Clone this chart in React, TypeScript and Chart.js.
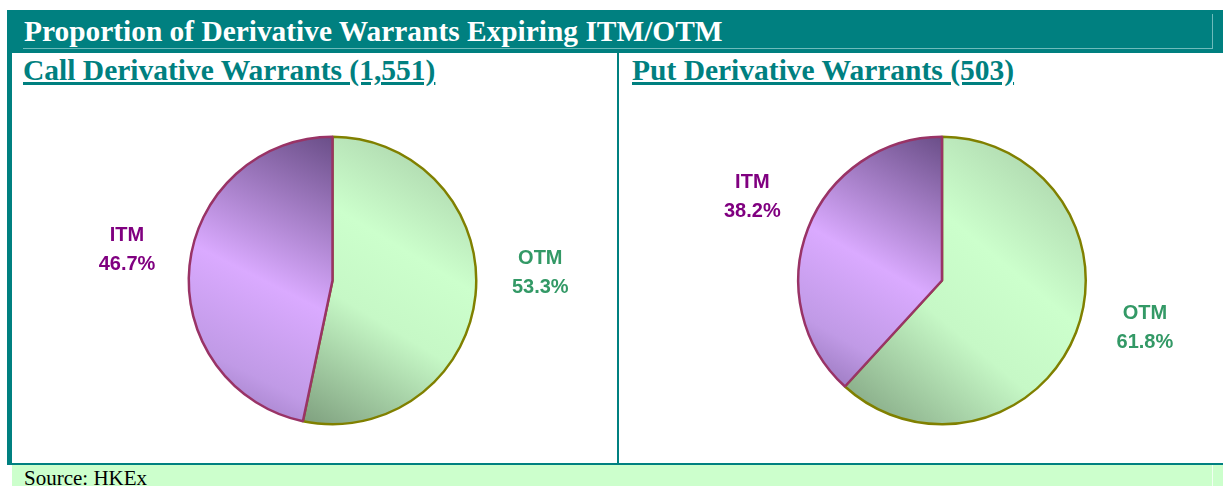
import React, { useEffect, useRef } from 'react';
import { Chart, registerables } from 'chart.js';

Chart.register(...registerables);

// ---- data ----
const categories = ['OTM', 'ITM'];
const callShares = [53.3, 46.7];
const putShares = [61.8, 38.2];
const callCount = '1,551';
const putCount = '503';
const titleText = 'Proportion of Derivative Warrants Expiring ITM/OTM';
const callTitle = `Call Derivative Warrants (${callCount})`;
const putTitle = `Put Derivative Warrants (${putCount})`;
const sourceText = 'Source: HKEx';

// ---- styles ----
const TEAL = '#008080';
type SliceStyle = { stops: [number, string][]; border: string; label: string; nudge: number };
const sliceStyles: Record<string, SliceStyle> = {
  OTM: {
    stops: [[0, '#A4C9A4'], [0.4, '#CCFFCC'], [0.62, '#C6F8C6'], [1, '#7E9F7E']],
    border: '#808000',
    label: '#339966',
    nudge: -8.5,
  },
  ITM: {
    stops: [[0, '#6A4E88'], [0.5, '#DAAAFF'], [0.78, '#C09AE6'], [1, '#9070B4']],
    border: '#993366',
    label: '#800080',
    nudge: 3,
  },
};
const BORDER_W = 2.5;
const LABEL_DIST = 208;

function sliceAngles(values: number[], i: number): [number, number] {
  const total = values.reduce((a, b) => a + b, 0);
  let start = -Math.PI / 2;
  for (let k = 0; k < i; k++) start += (values[k] / total) * Math.PI * 2;
  return [start, start + (values[i] / total) * Math.PI * 2];
}

function sectorBox(cx: number, cy: number, r: number, a0: number, a1: number) {
  const xs = [cx, cx + r * Math.cos(a0), cx + r * Math.cos(a1)];
  const ys = [cy, cy + r * Math.sin(a0), cy + r * Math.sin(a1)];
  for (let k = -4; k <= 8; k++) {
    const a = (k * Math.PI) / 2;
    if (a > a0 && a < a1) {
      xs.push(cx + r * Math.cos(a));
      ys.push(cy + r * Math.sin(a));
    }
  }
  return { minX: Math.min(...xs), maxX: Math.max(...xs), minY: Math.min(...ys), maxY: Math.max(...ys) };
}

const labelPlugin = {
  id: 'sliceLabels',
  afterDatasetsDraw(chart: any) {
    const ctx = chart.ctx;
    const meta = chart.getDatasetMeta(0);
    const values: number[] = chart.data.datasets[0].data;
    meta.data.forEach((arc: any, i: number) => {
      const name = chart.data.labels[i];
      const st = sliceStyles[name];
      const mid = (arc.startAngle + arc.endAngle) / 2 + (st.nudge * Math.PI) / 180;
      const x = arc.x + Math.cos(mid) * LABEL_DIST;
      const y = arc.y + Math.sin(mid) * LABEL_DIST;
      ctx.save();
      ctx.fillStyle = st.label;
      ctx.font = 'bold 20px "Liberation Sans", Arial, sans-serif';
      ctx.textAlign = 'center';
      ctx.textBaseline = 'alphabetic';
      ctx.fillText(name, x, y - 7);
      ctx.fillText(values[i].toFixed(1) + '%', x, y + 22);
      ctx.restore();
    });
  },
};

function PieChart(props: { values: number[]; left: number; top: number; width: number; height: number; cx: number; cy: number }) {
  const { values, left, top, width, height, cx, cy } = props;
  const ref = useRef<HTMLCanvasElement>(null);
  useEffect(() => {
    const R = 145;
    const chart = new Chart(ref.current as HTMLCanvasElement, {
      type: 'pie',
      data: {
        labels: categories,
        datasets: [
          {
            data: values,
            backgroundColor: (c: any) => {
              const name = categories[c.dataIndex];
              const st = sliceStyles[name];
              const area = c.chart.chartArea;
              if (!area) return st.stops[1][1];
              const ccx = (area.left + area.right) / 2;
              const ccy = (area.top + area.bottom) / 2;
              const r = (Math.min(area.right - area.left, area.bottom - area.top) - BORDER_W) / 2;
              const [a0, a1] = sliceAngles(values, c.dataIndex);
              const b = sectorBox(ccx, ccy, r, a0, a1);
              const g = c.chart.ctx.createLinearGradient(b.maxX, b.minY, b.minX, b.maxY);
              st.stops.forEach(([o, col]) => g.addColorStop(o, col));
              return g;
            },
            borderColor: categories.map((n) => sliceStyles[n].border),
            borderWidth: BORDER_W,
          },
        ],
      },
      options: {
        responsive: false,
        animation: false,
        devicePixelRatio: 1,
        layout: {
          padding: { left: cx - R, right: width - cx - R, top: cy - R, bottom: height - cy - R },
        },
        plugins: { legend: { display: false }, tooltip: { enabled: false } },
      } as any,
      plugins: [labelPlugin],
    });
    return () => chart.destroy();
  }, []);
  return <canvas ref={ref} width={width} height={height} style={{ position: 'absolute', left, top, width, height }} />;
}

const serif = '"Liberation Serif", "Times New Roman", serif';

export default function App() {
  return (
    <div style={{ position: 'absolute', left: 0, top: 0, width: 1223, height: 486, background: '#fff', overflow: 'hidden' }}>
      {/* title bar */}
      <div style={{ position: 'absolute', left: 7, top: 10, width: 1216, height: 43, background: TEAL }} />
      <div
        style={{
          position: 'absolute', left: 23, top: 14, width: 1189, height: 34,
          borderRight: '1px solid rgba(200,235,235,0.55)', borderBottom: '1px solid rgba(200,235,235,0.55)',
        }}
      />
      <div style={{ position: 'absolute', left: 24, top: 17, font: `bold 29.4px/29px ${serif}`, color: '#fff', whiteSpace: 'nowrap' }}>
        {titleText}
      </div>
      {/* frame */}
      <div style={{ position: 'absolute', left: 7, top: 52, width: 5, height: 413, background: TEAL }} />
      <div style={{ position: 'absolute', left: 617, top: 52, width: 2, height: 412, background: TEAL }} />
      <div style={{ position: 'absolute', left: 7, top: 463, width: 1216, height: 2, background: TEAL }} />
      {/* source bar */}
      <div style={{ position: 'absolute', left: 12, top: 465, width: 1211, height: 21, background: '#CCFFCC' }} />
      <div style={{ position: 'absolute', left: 1212, top: 465, width: 1, height: 21, background: 'rgba(255,255,255,0.7)' }} />
      <div style={{ position: 'absolute', left: 24, top: 468, font: `21px/21px ${serif}`, color: '#000', whiteSpace: 'nowrap' }}>
        {sourceText}
      </div>
      {/* subtitles */}
      {[
        { t: callTitle, x: 23 },
        { t: putTitle, x: 632 },
      ].map((s) => (
        <div
          key={s.t}
          style={{
            position: 'absolute', left: s.x, top: 56, font: `bold 29.5px/29px ${serif}`, color: TEAL, whiteSpace: 'nowrap',
            textDecoration: 'underline', textDecorationThickness: '2.5px', textUnderlineOffset: '2px',
          }}
        >
          {s.t}
        </div>
      ))}
      <PieChart values={callShares} left={12} top={88} width={604} height={372} cx={320.5} cy={192.5} />
      <PieChart values={putShares} left={619} top={88} width={604} height={372} cx={323} cy={192.5} />
    </div>
  );
}
